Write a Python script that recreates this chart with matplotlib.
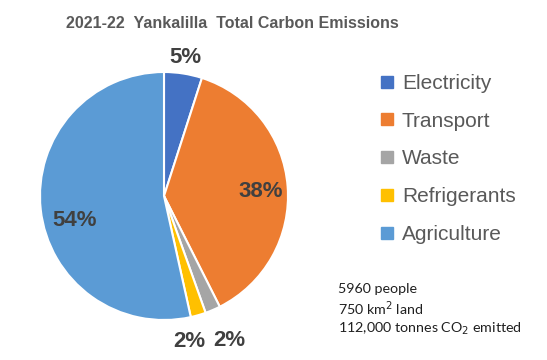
import numpy as np
import matplotlib
matplotlib.use("Agg")
import matplotlib.pyplot as plt
import matplotlib.lines as mlines

# data
categories = ["Electricity", "Transport", "Waste", "Refrigerants", "Agriculture"]
shares = [5, 38, 2, 2, 54]
pct_labels = ["5%", "38%", "2%", "2%", "54%"]
colors = ["#4472C4", "#ED7D31", "#A5A5A5", "#FFC000", "#5B9BD5"]
title = "2021-22  Yankalilla  Total Carbon Emissions"
notes = ["5960 people", "750 km$^2$ land", "112,000 tonnes CO$_2$ emitted"]

# label placement (radius in pie units, angle nudge in degrees)
label_r = [1.13, 0.78, 1.28, 1.19, 0.75]
label_nudge = [0, -2, 1, -6, 9]

W, H = 547, 360
fig = plt.figure(figsize=(W / 100, H / 100), dpi=100)

# pie centre (164, 196) px from top left, radius 124 px
cx, cy, R = 164, 196, 124
ax = fig.add_axes([(cx - R) / W, (H - cy - R) / H, 2 * R / W, 2 * R / H])
wedges, _ = ax.pie(shares, colors=colors, startangle=90, counterclock=False,
                   radius=1.0, wedgeprops=dict(edgecolor="white", linewidth=1.5))
ax.set_xlim(-1, 1)
ax.set_ylim(-1, 1)
ax.axis("off")

font = ["Liberation Sans", "DejaVu Sans"]

for w, lab, r, nudge in zip(wedges, pct_labels, label_r, label_nudge):
	ang = np.deg2rad((w.theta1 + w.theta2) / 2 + nudge)
	ax.text(r * np.cos(ang), r * np.sin(ang), lab, ha="center", va="center",
		fontsize=16, fontweight="bold", color="#404040", family=font)

fig.text(232 / W, 1 - 24 / H, title, ha="center", va="center",
	fontsize=11.5, fontweight="bold", color="#595959", family=font)

# legend
handles = []
for c, name in zip(colors, categories):
	handles.append(mlines.Line2D([], [], color=c, marker="s", linestyle="none",
		markersize=8, label=name))
fig.legend(handles=handles, loc="upper left", bbox_to_anchor=(380 / W, 1 - 74 / H),
	frameon=False, prop={"family": font, "size": 15},
	labelcolor="#595959", handlelength=0.7, handletextpad=0.35, labelspacing=0.9,
	borderpad=0, borderaxespad=0)

# footnote
for i, line in enumerate(notes):
	fig.text(338 / W, 1 - (289 + 20 * i) / H, line, ha="left", va="center",
		fontsize=10.3, color="#202020", family=["Lato", "DejaVu Sans"])

fig.savefig("out.png", dpi=100, facecolor="white")
